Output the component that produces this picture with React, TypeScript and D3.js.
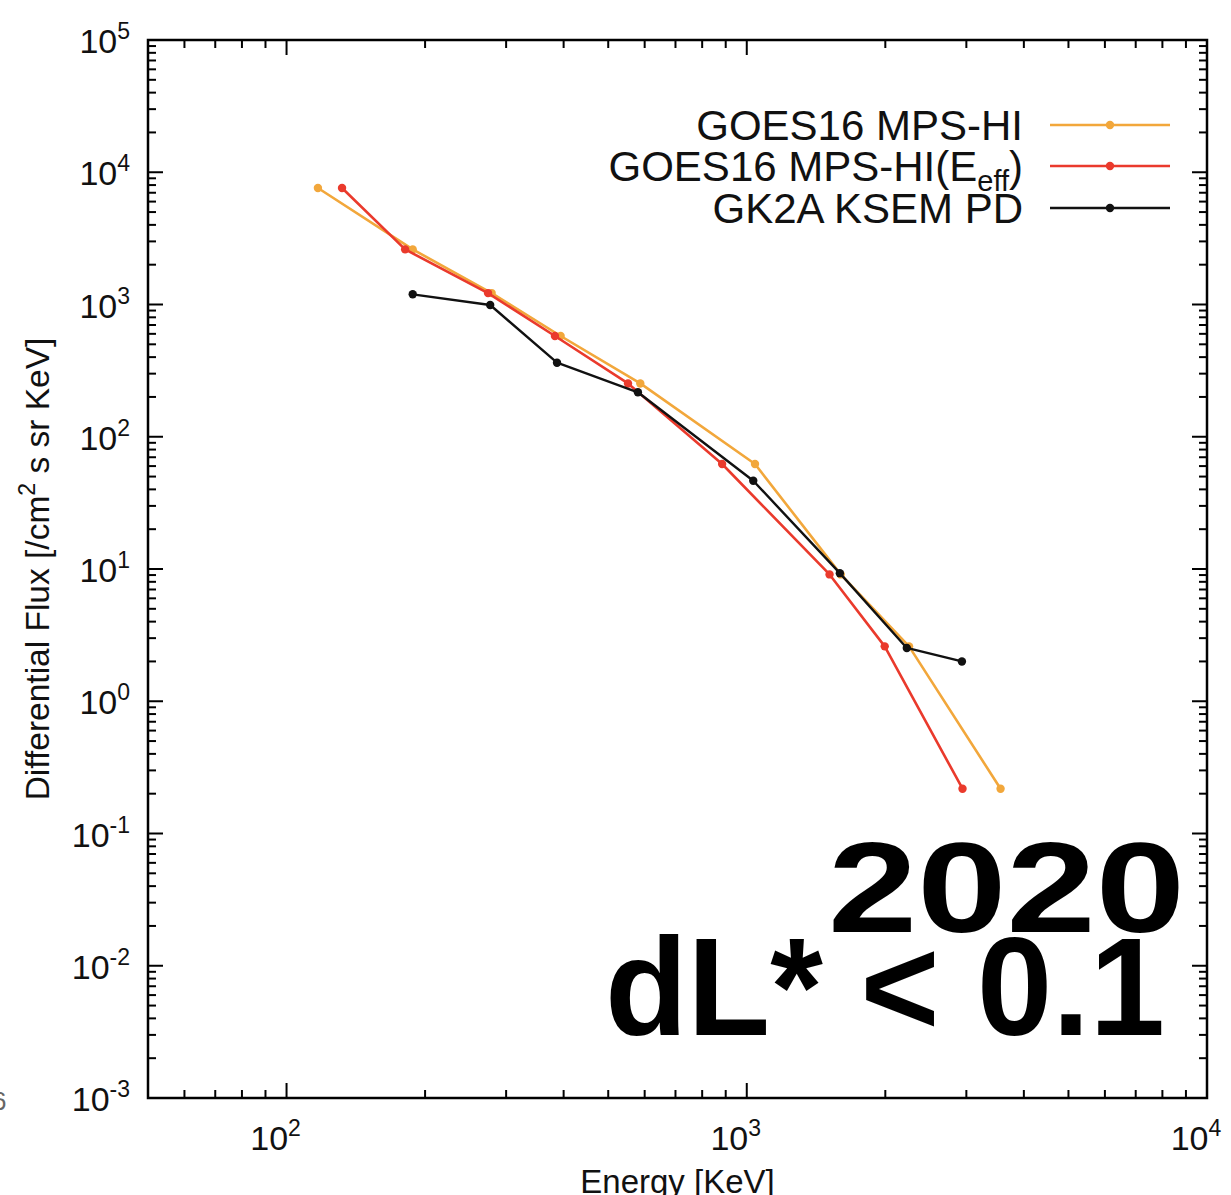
import React, { useEffect, useRef } from 'react';
import * as d3 from 'd3';

// GOES16 MPS-HI (nominal energies) and E_eff energies share the same flux values
const goesEnergy = [117, 188, 279, 394, 587, 1042, 1600, 2252, 3560];
const goesEffEnergy = [132, 181, 274, 383, 552, 884, 1513, 1994, 2943];
const goesFlux = [7600, 2610, 1220, 578, 253, 62.2, 9.1, 2.6, 0.218];

const ksemEnergy = [188, 277, 387, 580, 1033, 1593, 2227, 2934];
const ksemFlux = [1194, 991, 363, 217, 46.5, 9.3, 2.53, 2.0];

const xMajorTicks = [100, 1000, 10000];
const yMajorTicks = [1e-3, 1e-2, 1e-1, 1, 10, 100, 1000, 10000, 100000];

const W = 1231;
const H = 1195;
const FONT = '"Liberation Sans", Arial, Helvetica, sans-serif';

export default function App() {
  const svgRef = useRef<SVGSVGElement | null>(null);

  useEffect(() => {
    if (!svgRef.current) return;
    const svg = d3.select(svgRef.current);
    svg.selectAll('*').remove();

    const left = 148, right = 1207, top = 40, bottom = 1098;

    const x = d3.scaleLog().domain([50, 10000]).range([left, right]);
    const y = d3.scaleLog().domain([1e-3, 1e5]).range([bottom, top]);

    const isMajor = (v: number) => Math.abs(Math.log10(v) - Math.round(Math.log10(v))) < 1e-9;

    svg.append('rect').attr('width', W).attr('height', H).attr('fill', '#fff');

    // ticks (inward, mirrored on all sides)
    const tickG = svg.append('g').attr('stroke', '#000').attr('stroke-width', 2);
    y.ticks().forEach(t => {
      const len = isMajor(t) ? 15 : 8;
      const yy = y(t);
      tickG.append('line').attr('x1', left).attr('x2', left + len).attr('y1', yy).attr('y2', yy);
      tickG.append('line').attr('x1', right).attr('x2', right - len).attr('y1', yy).attr('y2', yy);
    });
    x.ticks().forEach(t => {
      const len = isMajor(t) ? 15 : 8;
      const xx = x(t);
      tickG.append('line').attr('x1', xx).attr('x2', xx).attr('y1', bottom).attr('y2', bottom - len);
      tickG.append('line').attr('x1', xx).attr('x2', xx).attr('y1', top).attr('y2', top + len);
    });

    // frame
    svg.append('rect')
      .attr('x', left).attr('y', top)
      .attr('width', right - left).attr('height', bottom - top)
      .attr('fill', 'none').attr('stroke', '#000').attr('stroke-width', 2.5);

    // y tick labels
    yMajorTicks.forEach(t => {
      const txt = svg.append('text')
        .attr('x', 130).attr('y', y(t) + 13)
        .attr('text-anchor', 'end')
        .attr('font-family', FONT).attr('font-size', 34).attr('fill', '#111');
      txt.append('tspan').text('10');
      txt.append('tspan').attr('dy', -14).attr('font-size', 23).text(String(Math.round(Math.log10(t))));
    });

    // x tick labels
    xMajorTicks.forEach(t => {
      const txt = svg.append('text')
        .attr('x', x(t) - 11).attr('y', 1150)
        .attr('text-anchor', 'middle')
        .attr('font-family', FONT).attr('font-size', 34).attr('fill', '#111');
      txt.append('tspan').text('10');
      txt.append('tspan').attr('dy', -14).attr('font-size', 23).text(String(Math.round(Math.log10(t))));
    });

    // axis titles
    svg.append('text')
      .attr('x', (left + right) / 2).attr('y', 1193)
      .attr('text-anchor', 'middle')
      .attr('font-family', FONT).attr('font-size', 33).attr('fill', '#111')
      .text('Energy [KeV]');

    const yt = svg.append('text')
      .attr('transform', `translate(49,${(top + bottom) / 2}) rotate(-90)`)
      .attr('text-anchor', 'middle')
      .attr('font-family', FONT).attr('font-size', 33.5).attr('fill', '#111');
    yt.append('tspan').text('Differential Flux [/cm');
    yt.append('tspan').attr('dy', -14).attr('font-size', 23).text('2');
    yt.append('tspan').attr('dy', 14).text(' s sr KeV]');

    // series
    const series = [
      { name: 'orange', energy: goesEnergy, flux: goesFlux, color: '#f2a73b', width: 2.6 },
      { name: 'red', energy: goesEffEnergy, flux: goesFlux, color: '#ea3a2c', width: 2.6 },
      { name: 'black', energy: ksemEnergy, flux: ksemFlux, color: '#111111', width: 2.4 },
    ];

    const line = d3.line<[number, number]>()
      .x(d => x(d[0]))
      .y(d => y(d[1]));

    series.forEach(s => {
      const pts: [number, number][] = s.energy.map((e, i) => [e, s.flux[i]]);
      svg.append('path')
        .attr('d', line(pts) as string)
        .attr('fill', 'none')
        .attr('stroke', s.color)
        .attr('stroke-width', s.width)
        .attr('stroke-linejoin', 'round');
      svg.selectAll(`.pt-${s.name}`)
        .data(pts)
        .enter()
        .append('circle')
        .attr('class', `pt-${s.name}`)
        .attr('cx', d => x(d[0]))
        .attr('cy', d => y(d[1]))
        .attr('r', 4.2)
        .attr('fill', s.color);
    });

    // legend
    const legendRows = [
      { label: 'GOES16 MPS-HI', color: '#f2a73b', y: 125 },
      { label: 'GOES16 MPS-HI(E', sub: 'eff', color: '#ea3a2c', y: 166 },
      { label: 'GK2A KSEM PD', color: '#111111', y: 208 },
    ];
    legendRows.forEach(r => {
      const t = svg.append('text')
        .attr('x', 1023).attr('y', r.y + 15)
        .attr('text-anchor', 'end')
        .attr('font-family', FONT).attr('font-size', 42).attr('fill', '#111');
      t.append('tspan').text(r.label);
      if (r.sub) {
        t.append('tspan').attr('dy', 10).attr('font-size', 29).text(r.sub);
        t.append('tspan').attr('dy', -10).text(')');
      }
      svg.append('line')
        .attr('x1', 1050).attr('x2', 1170).attr('y1', r.y).attr('y2', r.y)
        .attr('stroke', r.color).attr('stroke-width', 2.6);
      svg.append('circle').attr('cx', 1110).attr('cy', r.y).attr('r', 4.2).attr('fill', r.color);
    });

    // overlay annotation
    svg.append('text')
      .attr('x', 828).attr('y', 932)
      .attr('font-family', FONT).attr('font-weight', 'bold').attr('font-size', 128)
      .attr('textLength', 357).attr('lengthAdjust', 'spacingAndGlyphs')
      .attr('fill', '#000')
      .text('2020');
    svg.append('text')
      .attr('x', 605).attr('y', 1035)
      .attr('font-family', FONT).attr('font-weight', 'bold').attr('font-size', 140)
      .attr('textLength', 560).attr('lengthAdjust', 'spacingAndGlyphs')
      .attr('fill', '#000')
      .text('dL* < 0.1');

    // stray glyph at the left edge
    svg.append('text')
      .attr('x', -8).attr('y', 1110)
      .attr('font-family', FONT).attr('font-size', 26).attr('fill', '#666')
      .text('6');
  }, []);

  return (
    <svg
      ref={svgRef}
      width={W}
      height={H}
      style={{ position: 'absolute', left: 0, top: 0, display: 'block' }}
    />
  );
}
